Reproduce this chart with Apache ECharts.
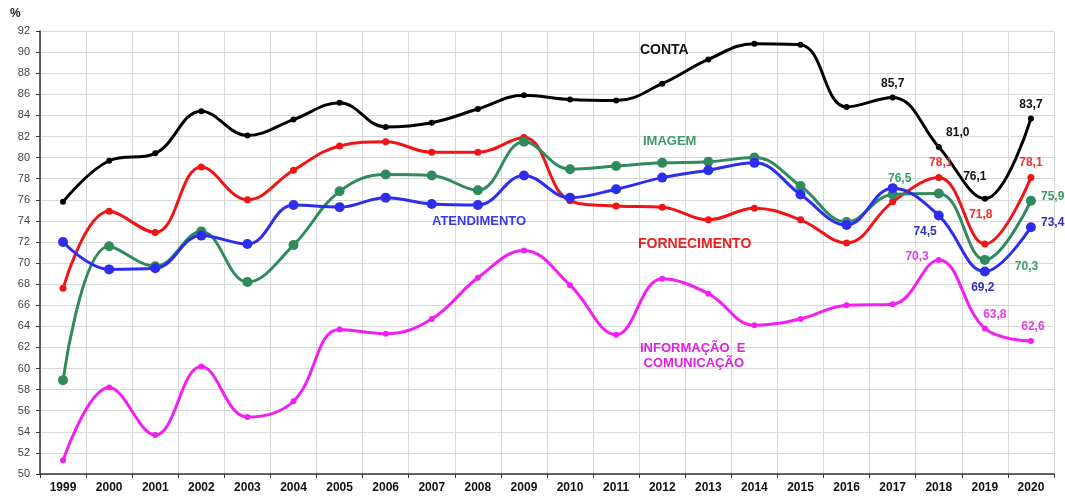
<!DOCTYPE html>
<html>
<head>
<meta charset="utf-8">
<script src="https://cdn.jsdelivr.net/npm/echarts@6/dist/echarts.min.js"></script>
<style>
  html, body { margin: 0; padding: 0; background: #fff; }
  #main { width: 1065px; height: 500px; }
</style>
</head>
<body>
<div id="main"></div>
<script>
// dados
var anos = ['1999', '2000', '2001', '2002', '2003', '2004', '2005', '2006', '2007', '2008', '2009',
            '2010', '2011', '2012', '2013', '2014', '2015', '2016', '2017', '2018', '2019', '2020'];

var conta        = [75.8, 79.7, 80.4, 84.4, 82.1, 83.6, 85.2, 82.9, 83.3, 84.6, 85.9, 85.5, 85.4, 87.0, 89.3, 90.8, 90.7, 84.8, 85.7, 81.0, 76.1, 83.7];
var fornecimento = [67.6, 74.9, 72.9, 79.1, 76.0, 78.8, 81.1, 81.5, 80.5, 80.5, 81.9, 75.9, 75.4, 75.3, 74.1, 75.2, 74.1, 71.9, 75.8, 78.1, 71.8, 78.1];
var imagem       = [58.9, 71.6, 69.7, 73.0, 68.2, 71.7, 76.8, 78.4, 78.3, 76.9, 81.5, 78.9, 79.2, 79.5, 79.6, 80.0, 77.3, 73.9, 76.5, 76.6, 70.3, 75.9];
var atendimento  = [72.0, 69.4, 69.5, 72.6, 71.8, 75.5, 75.3, 76.2, 75.6, 75.5, 78.3, 76.2, 77.0, 78.1, 78.8, 79.5, 76.5, 73.6, 77.1, 74.5, 69.2, 73.4];
var informacao   = [51.3, 58.2, 53.7, 60.2, 55.4, 56.9, 63.7, 63.3, 64.7, 68.6, 71.2, 67.9, 63.2, 68.5, 67.1, 64.1, 64.7, 66.0, 66.1, 70.3, 63.8, 62.6];

// rótulos de valor: índice -> [posição, deslocamento]
var rotConta   = {18: ['top', [0, 0]], 19: ['top', [19, 0]], 20: ['top', [-10, -8]], 21: ['top', [0, 0]]};
var rotForn    = {19: ['top', [2, 0]], 20: ['top', [-4, -15]], 21: ['top', [0, 0]]};
var rotImagem  = {18: ['top', [7, 0]], 20: ['right', [20, 7]], 21: ['right', [0, -4]]};
var rotAtend   = {19: ['left', [8, 16]], 20: ['bottom', [-2, 0]], 21: ['right', [0, -4]]};
var rotInfo    = {19: ['left', [-2, -3]], 20: ['top', [10, 0]], 21: ['top', [2, 0]]};

function virgula(p) {
  return p.value.toFixed(1).replace('.', ',');
}

var fonte = 'Liberation Sans, Arial, sans-serif';

function montaDados(valores, rotulos, cor) {
  return valores.map(function (v, i) {
    var item = {value: v};
    if (rotulos[i] !== undefined) {
      item.label = {
        show: true,
        position: rotulos[i][0],
        offset: rotulos[i][1],
        formatter: virgula,
        color: cor,
        fontSize: 12,
        fontWeight: 'bold',
        fontFamily: fonte
      };
    }
    return item;
  });
}

function serie(nome, valores, rotulos, cor, corRot, simbolo) {
  return {
    name: nome,
    type: 'line',
    smooth: 0.4,
    symbol: 'circle',
    symbolSize: simbolo,
    lineStyle: {color: cor, width: 3},
    itemStyle: {color: cor},
    data: montaDados(valores, rotulos, corRot)
  };
}

var myChart = echarts.init(document.getElementById('main'));

var option = {
  animation: false,
  backgroundColor: '#fff',
  grid: {left: 40, right: 11, top: 31, bottom: 26},
  xAxis: {
    type: 'category',
    data: anos,
    boundaryGap: true,
    axisLine: {lineStyle: {color: '#333', width: 1.5}},
    axisTick: {show: true, alignWithLabel: false, length: 4, lineStyle: {color: '#333'}},
    axisLabel: {color: '#111', fontWeight: 'bold', fontSize: 12, fontFamily: fonte, margin: 8},
    splitLine: {show: true, lineStyle: {color: '#d8d8d8'}}
  },
  yAxis: {
    type: 'value',
    min: 50,
    max: 92,
    interval: 2,
    axisLine: {show: true, lineStyle: {color: '#333', width: 1.5}},
    axisTick: {show: true, length: 4, lineStyle: {color: '#333'}},
    axisLabel: {color: '#444', fontSize: 11, fontFamily: fonte, margin: 10},
    splitLine: {show: true, lineStyle: {color: '#d8d8d8'}}
  },
  graphic: [
    {type: 'text', z: 100, left: 10, top: 8, style: {text: '%', fill: '#222', font: 'bold 12px ' + fonte}},
    {type: 'text', z: 100, left: 640, top: 43, style: {text: 'CONTA', fill: '#111', font: 'bold 14px ' + fonte}},
    {type: 'text', z: 100, left: 643, top: 135, style: {text: 'IMAGEM', fill: '#3c9a68', font: 'bold 13px ' + fonte}},
    {type: 'text', z: 100, left: 432, top: 215, style: {text: 'ATENDIMENTO', fill: '#3a3ae8', font: 'bold 13px ' + fonte}},
    {type: 'text', z: 100, left: 638, top: 237, style: {text: 'FORNECIMENTO', fill: '#e82020', font: 'bold 14px ' + fonte}},
    {type: 'text', z: 100, left: 640, top: 341, style: {text: 'INFORMAÇÃO  E\n COMUNICAÇÃO', fill: '#e020e0', font: 'bold 13px ' + fonte, lineHeight: 15}}
  ],
  series: [
    serie('INFORMAÇÃO E COMUNICAÇÃO', informacao, rotInfo, '#f21ef2', '#e040e0', 6),
    serie('FORNECIMENTO', fornecimento, rotForn, '#f01414', '#f03030', 7),
    serie('IMAGEM', imagem, rotImagem, '#2f8a5c', '#3c9a68', 10),
    serie('ATENDIMENTO', atendimento, rotAtend, '#2d2df0', '#3030c0', 10),
    serie('CONTA', conta, rotConta, '#000000', '#111', 6)
  ]
};

myChart.setOption(option);
</script>
</body>
</html>
